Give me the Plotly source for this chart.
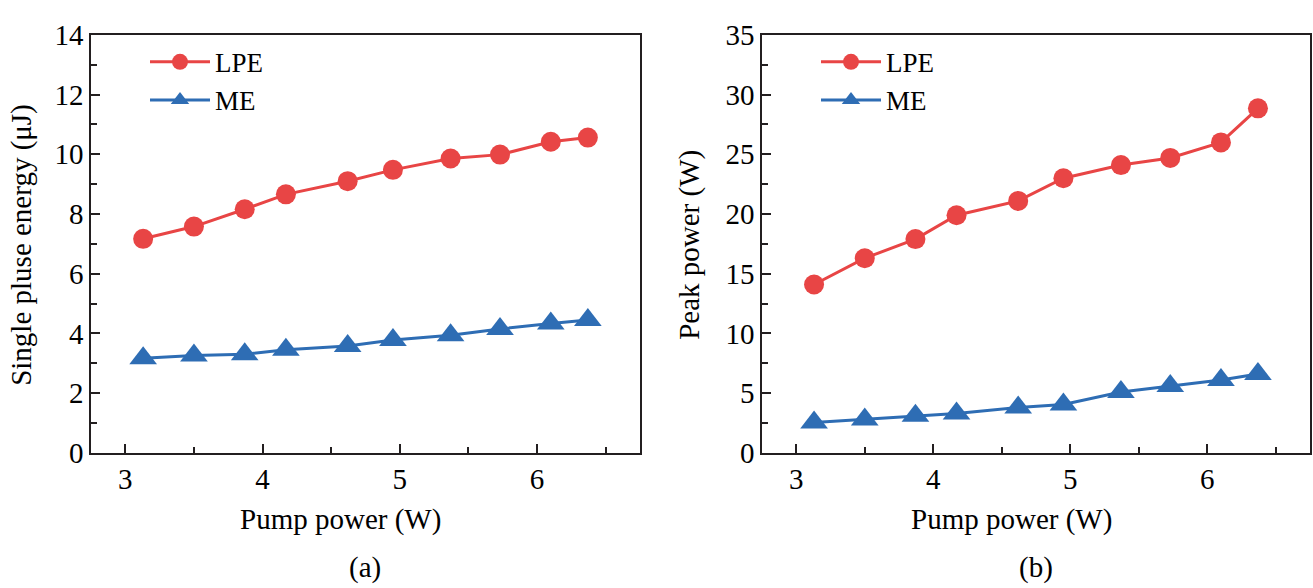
import plotly.graph_objects as go

pump_power = [3.13, 3.50, 3.87, 4.17, 4.62, 4.95, 5.37, 5.73, 6.10, 6.37]
energy_lpe = [7.17, 7.58, 8.16, 8.66, 9.10, 9.48, 9.86, 9.99, 10.42, 10.56]
energy_me = [3.17, 3.26, 3.30, 3.45, 3.58, 3.78, 3.94, 4.15, 4.33, 4.45]
peak_lpe = [14.1, 16.3, 17.9, 19.9, 21.1, 23.0, 24.1, 24.7, 26.0, 28.85]
peak_me = [2.55, 2.80, 3.10, 3.30, 3.80, 4.05, 5.10, 5.60, 6.10, 6.60]

RED = "#E84545"
BLUE = "#2E6DB4"
FONT = "Liberation Serif"
AX = "#231F20"

fig = go.Figure()

def add(x, y, name, color, symbol, size, xa, ya, legend, show):
    fig.add_trace(go.Scatter(
        x=x, y=y, name=name, mode="lines+markers",
        line=dict(color=color, width=3),
        marker=dict(color=color, symbol=symbol, size=size, line=dict(width=0)),
        xaxis=xa, yaxis=ya, legend=legend, showlegend=show))

add(pump_power, energy_lpe, "LPE", RED, "circle", 20, "x", "y", "legend", True)
add(pump_power, energy_me, "ME", BLUE, "triangle-up", 24, "x", "y", "legend", True)
add(pump_power, peak_lpe, "LPE", RED, "circle", 20, "x2", "y2", "legend2", True)
add(pump_power, peak_me, "ME", BLUE, "triangle-up", 24, "x2", "y2", "legend2", True)

W, H = 1313, 588
ytop = 1 - 20 / H
ybot = 1 - 462 / H
TS = 29

xcommon = dict(range=[2.75, 6.75], tickvals=[3, 4, 5, 6], ticks="inside", ticklen=9,
               tickwidth=1.5, tickcolor=AX, showline=True, linecolor=AX, linewidth=1.5,
               mirror=True, showgrid=False, zeroline=False,
               minor=dict(tickvals=[3.5, 4.5, 5.5, 6.5], ticks="inside", ticklen=6,
                          tickwidth=1.5, tickcolor=AX),
               tickfont=dict(family=FONT, size=TS, color="black"))
ycommon = dict(ticks="inside", ticklen=9, tickwidth=1.5, tickcolor=AX, showline=True,
               linecolor=AX, linewidth=1.5, mirror=True, showgrid=False, zeroline=False,
               domain=[ybot, ytop],
               tickfont=dict(family=FONT, size=TS, color="black"))

fig.update_layout(
    width=W, height=H,
    margin=dict(l=0, r=0, t=0, b=0),
    paper_bgcolor="white", plot_bgcolor="white",
    font=dict(family=FONT, size=TS, color="black"),
    xaxis=dict(domain=[91 / W, 640 / W], anchor="y", **xcommon),
    yaxis=dict(range=[0, 14], tickvals=list(range(0, 15, 2)), anchor="x",
               minor=dict(tickvals=list(range(1, 14, 2)), ticks="inside", ticklen=6,
                          tickwidth=1.5, tickcolor=AX), **ycommon),
    xaxis2=dict(domain=[762 / W, 1310 / W], anchor="y2", **xcommon),
    yaxis2=dict(range=[0, 35], tickvals=list(range(0, 36, 5)), anchor="x2",
                minor=dict(tickvals=[2.5 + 5 * i for i in range(7)], ticks="inside", ticklen=6,
                           tickwidth=1.5, tickcolor=AX), **ycommon),
    legend=dict(x=145 / W, y=1 - 23 / H, xanchor="left", yanchor="top",
                bgcolor="rgba(0,0,0,0)", font=dict(family=FONT, size=27),
                tracegroupgap=0, itemwidth=60),
    legend2=dict(x=816 / W, y=1 - 23 / H, xanchor="left", yanchor="top",
                 bgcolor="rgba(0,0,0,0)", font=dict(family=FONT, size=27),
                 tracegroupgap=0, itemwidth=60),
)

ann = [
    dict(text="Single pluse energy (μJ)", x=22 / W, y=1 - 242 / H, textangle=-90),
    dict(text="Pump power (W)", x=340 / W, y=1 - 533 / H),
    dict(text="(a)", x=365 / W, y=1 - 583 / H),
    dict(text="Peak power (W)", x=690 / W, y=1 - 242 / H, textangle=-90),
    dict(text="Pump power (W)", x=1011 / W, y=1 - 533 / H),
    dict(text="(b)", x=1036 / W, y=1 - 583 / H),
]
for a in ann:
    fig.add_annotation(xref="paper", yref="paper", showarrow=False,
                       xanchor="center", yanchor="middle",
                       font=dict(family=FONT, size=TS, color="black"), **a)

fig.write_html("out.html")
